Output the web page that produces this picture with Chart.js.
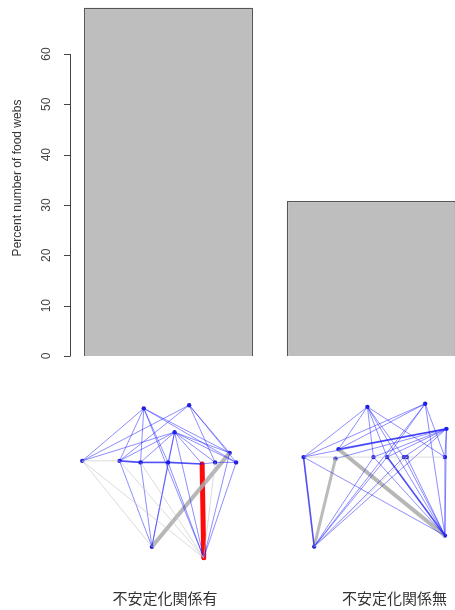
<!DOCTYPE html>
<html><head><meta charset="utf-8">
<script src="https://cdn.jsdelivr.net/npm/chart.js"></script>
<style>
html,body{margin:0;padding:0;background:#fff;overflow:hidden;width:455px;height:610px}
#wrap{position:relative;width:455px;height:610px}
canvas{position:absolute}
</style></head><body>
<div id="wrap">
<canvas id="bars" width="455" height="610" style="left:0;top:0"></canvas>
<canvas id="web1" width="170" height="167" style="left:75px;top:398px"></canvas>
<canvas id="web2" width="160" height="165" style="left:295px;top:395px"></canvas>
</div>
<script>
// ---- data ----
const categories = ['不安定化関係有', '不安定化関係無'];
const percentWebs = [69.2, 30.8];
const barCenters = [0.7, 1.9];          // barplot positions (width 1, space 0.2)
const labelPositions = [0.679, 2.037];  // where the category names sit
const yTicks = [0, 10, 20, 30, 40, 50, 60];
const yTitle = 'Percent number of food webs';

// food web 1 (layout coordinates 0..1)
const web1Nodes = {
  A:[0.40,0.96], B:[0.68,0.98], C:[0.59,0.81], D:[0.02,0.63], E:[0.25,0.63],
  F:[0.38,0.62], G:[0.55,0.62], H:[0.76,0.61], I:[0.84,0.62], J:[0.93,0.68],
  K:[0.97,0.62], L:[0.45,0.09], M:[0.77,0.02]
};
const web1Edges = [
  ['D','L','g'],['D','M','g'],['E','M','g'],['F','M','g'],['I','M','g'],['D','E','g'],
  ['A','D','b'],['A','E','b'],['A','F','b'],['A','G','b'],['A','J','b'],['A','K','b'],['A','M','b'],
  ['B','D','b'],['B','E','b'],['B','I','b'],['B','K','b'],['B','J','b'],
  ['C','D','b'],['C','E','b'],['C','F','b'],['C','G','b'],['C','H','b'],['C','I','b'],
  ['C','J','b'],['C','K','b'],['C','L','b'],['C','M','b'],
  ['E','L','b'],['F','L','b'],['G','L','b'],['G','M','b'],['K','M','b'],['J','M','b'],
  ['E','F','B'],['F','G','B'],['G','H','B'],['H','I','b'],['I','K','b'],
  ['L','J','G'],['H','M','R']
];

// food web 2
const web2Nodes = {
  a:[0.45,0.95], b:[0.83,0.97], c:[0.97,0.81], d:[0.03,0.63], e:[0.26,0.68],
  f:[0.24,0.62], g:[0.49,0.63], h:[0.58,0.63], i:[0.69,0.63], j:[0.71,0.63],
  k:[0.96,0.63], l:[0.10,0.06], m:[0.96,0.13]
};
const web2Edges = [
  ['d','k','g'],['j','l','g'],
  ['a','d','b'],['a','e','b'],['a','g','b'],['a','h','b'],['a','i','b'],['a','k','b'],['a','m','b'],
  ['b','d','b'],['b','e','b'],['b','h','b'],['b','k','b'],['b','m','b'],
  ['c','d','b'],['c','f','b'],['c','g','b'],['c','h','b'],['c','i','b'],['c','k','b'],
  ['c','l','b'],['c','m','b'],
  ['l','g','b'],['l','h','b'],['l','i','b'],['l','b','b'],
  ['m','d','b'],['m','g','b'],['m','i','b'],['m','j','b'],['m','k','b'],
  ['c','e','B'],['d','l','B'],['h','m','B'],
  ['e','m','G'],['f','l','G2']
];

// ---- styles ----
const edgeStyle = {
  g:  {c:'rgba(195,195,195,0.6)', w:1},
  b:  {c:'rgba(30,30,255,0.5)', w:1},
  B:  {c:'rgba(20,20,240,0.75)', w:1.6},
  G:  {c:'rgba(170,170,170,0.85)', w:4},
  G2: {c:'rgba(175,175,175,0.85)', w:3},
  R:  {c:'#ff0a0a', w:5}
};
const order = ['g','b','B','G','G2','R'];

// y-axis drawn R-style
const rAxis = {
  id:'rAxis',
  afterDraw(chart){
    const ctx = chart.ctx, ys = chart.scales.y, x0 = chart.chartArea.left;
    ctx.save();
    ctx.strokeStyle = '#444'; ctx.lineWidth = 1;
    ctx.beginPath();
    ctx.moveTo(x0 + 0.5, ys.getPixelForValue(yTicks[0]));
    ctx.lineTo(x0 + 0.5, ys.getPixelForValue(yTicks[yTicks.length-1]));
    yTicks.forEach(t => {
      const p = Math.round(ys.getPixelForValue(t)) + 0.5;
      ctx.moveTo(x0 + 0.5, p); ctx.lineTo(x0 - 6, p);
    });
    ctx.stroke();
    ctx.fillStyle = '#444';
    ctx.font = '12px "Liberation Sans", Arial, sans-serif';
    ctx.textAlign = 'center'; ctx.textBaseline = 'middle';
    yTicks.forEach(t => {
      ctx.save();
      ctx.translate(x0 - 23, ys.getPixelForValue(t));
      ctx.rotate(-Math.PI/2);
      ctx.fillText(String(t), 0, 0);
      ctx.restore();
    });
    ctx.restore();
  }
};

new Chart(document.getElementById('bars'), {
  type:'bar',
  data:{ datasets:[{
    data: barCenters.map((x,i)=>({x, y:percentWebs[i]})),
    backgroundColor:'#bebebe', borderColor:'#555', borderWidth:1.3,
    barPercentage:1, categoryPercentage:1/1.2
  }]},
  options:{
    responsive:false, animation:false, devicePixelRatio:1,
    layout:{padding:{left:6, top:0, right:0, bottom:0}},
    plugins:{legend:{display:false}, tooltip:{enabled:false}},
    scales:{
      x:{ type:'linear', min:0.117, max:2.395, offset:false,
        grid:{display:false}, border:{display:false},
        afterBuildTicks: s => { s.ticks = labelPositions.map(v=>({value:v})); },
        ticks:{ padding:225, maxRotation:0, minRotation:0, autoSkip:false,
          font:{family:'"Noto Sans CJK JP", sans-serif', size:15}, color:'#333',
          callback:(v,i)=>categories[i] },
        afterFit: s => { s.height = 254; s.paddingLeft = 0; s.paddingRight = 0; }
      },
      y:{ min:0, max:70.73,
        grid:{display:false}, border:{display:false}, ticks:{display:false},
        title:{display:true, text:yTitle, color:'#333',
          font:{family:'"Liberation Sans", Arial, sans-serif', size:12}, padding:{top:4,bottom:4}},
        afterFit: s => { s.width = 64; }
      }
    }
  },
  plugins:[rAxis]
});

function drawWeb(id, nodes, edges){
  const ds = [];
  order.forEach(t => {
    edges.filter(e=>e[2]===t).forEach(e => {
      const p = nodes[e[0]], q = nodes[e[1]];
      ds.push({ data:[{x:p[0],y:p[1]},{x:q[0],y:q[1]}], showLine:true,
        borderColor:edgeStyle[t].c, borderWidth:edgeStyle[t].w,
        pointRadius:0, clip:false, borderCapStyle: t==='R' ? 'round':'butt' });
    });
  });
  ds.push({ data:Object.values(nodes).map(p=>({x:p[0],y:p[1]})),
    pointRadius:2.2, pointBackgroundColor:'rgba(10,10,210,0.9)', pointBorderWidth:0, clip:false, showLine:false });
  new Chart(document.getElementById(id), {
    type:'scatter',
    data:{datasets:ds},
    options:{ responsive:false, animation:false, devicePixelRatio:1,
      layout:{padding:0},
      plugins:{legend:{display:false}, tooltip:{enabled:false}},
      scales:{ x:{type:'linear', min:0, max:1, display:false},
               y:{type:'linear', min:0, max:1, display:false} } }
  });
}
drawWeb('web1', web1Nodes, web1Edges);
drawWeb('web2', web2Nodes, web2Edges);
</script>
</body></html>
